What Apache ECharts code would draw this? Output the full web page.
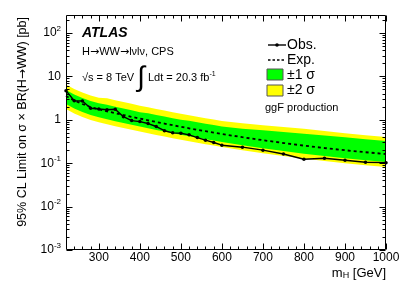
<!DOCTYPE html>
<html><head><meta charset="utf-8">
<script src="https://cdn.jsdelivr.net/npm/echarts@6/dist/echarts.min.js"></script>
<style>html,body{margin:0;padding:0;background:#fff}#c{width:407px;height:295px}</style>
</head><body><div id="c"></div>
<script>
// ---- data ----
const masses   = [220,240,260,280,300,320,340,360,380,400,420,440,460,480,500,520,540,560,580,600,650,700,750,800,850,900,950,1000];
const observed = [4.7,2.75,2.71,1.84,1.77,1.71,1.75,1.18,0.96,0.91,0.82,0.70,0.56,0.50,0.49,0.45,0.39,0.34,0.30,0.26,0.234,0.20,0.163,0.123,0.13,0.117,0.105,0.103];
const expected = [3.54,2.79,2.31,1.97,1.75,1.57,1.42,1.29,1.17,1.07,0.974,0.890,0.818,0.751,0.690,0.637,0.588,0.546,0.507,0.471,0.397,0.339,0.292,0.254,0.224,0.199,0.179,0.163];
const plus1    = [4.86,3.83,3.18,2.71,2.40,2.21,2.00,1.82,1.65,1.50,1.41,1.29,1.19,1.09,1.00,0.949,0.876,0.814,0.755,0.702,0.623,0.576,0.523,0.480,0.435,0.396,0.356,0.324];
const minus1   = [2.31,1.82,1.51,1.29,1.14,1.03,0.928,0.844,0.766,0.697,0.637,0.582,0.535,0.491,0.451,0.417,0.385,0.357,0.332,0.308,0.260,0.222,0.191,0.166,0.146,0.130,0.117,0.107];
const plus2    = [6.50,5.12,4.26,3.63,3.21,3.12,2.82,2.57,2.33,2.12,1.94,1.77,1.63,1.49,1.37,1.27,1.17,1.09,1.01,0.937,0.834,0.749,0.683,0.625,0.551,0.490,0.440,0.401];
const minus2   = [1.78,1.40,1.16,0.990,0.876,0.788,0.712,0.648,0.588,0.535,0.489,0.447,0.411,0.377,0.346,0.320,0.295,0.274,0.255,0.236,0.199,0.170,0.147,0.128,0.112,0.100,0.090,0.082];

const xTickValues = [300,400,500,600,700,800,900,1000];
const xTickLabels = ['300','400','500','600','700','800','900','1000'];
const xMinorTicks = [240,260,280,320,340,360,380,420,440,460,480,520,540,560,580,620,640,660,680,720,740,760,780,820,840,860,880,920,940,960,980];
const yTickValues = [0.001,0.01,0.1,1,10,100];
const yTickBase   = ['10','10','10','1','10','10'];
const yTickExp    = ['-3','-2','-1','','','2'];
const yMinorTicks = [0.002,0.003,0.004,0.005,0.006,0.007,0.008,0.009,
                     0.02,0.03,0.04,0.05,0.06,0.07,0.08,0.09,
                     0.2,0.3,0.4,0.5,0.6,0.7,0.8,0.9,
                     2,3,4,5,6,7,8,9,
                     20,30,40,50,60,70,80,90,200];

const X_MIN = 220, X_MAX = 1000, Y_MIN = 0.001, Y_MAX = 260;
const FONT = '"Liberation Sans", Arial, Helvetica, sans-serif';
const AFONT = '"DejaVu Sans", sans-serif';
const GREEN = '#00ff00', YELLOW = '#ffff00';

function bandItem(upper, lower, color) {
  return function (params, api) {
    if (params.dataIndex !== 0) return null;
    const pts = [];
    for (let i = 0; i < masses.length; i++) pts.push(api.coord([masses[i], upper[i]]));
    for (let i = masses.length - 1; i >= 0; i--) pts.push(api.coord([masses[i], lower[i]]));
    return { type: 'polygon', shape: { points: pts }, style: { fill: color, stroke: null } };
  };
}

function ticksItem(params, api) {
  if (params.dataIndex !== 0) return null;
  const bl = api.coord([X_MIN, Y_MIN]), tr = api.coord([X_MAX, Y_MAX]);
  const L = Math.round(bl[0]) + 0.5, R = Math.round(tr[0]) - 0.5;
  const B = Math.round(bl[1]) - 0.5, T = Math.round(tr[1]) + 0.5;
  const ch = [];
  const seg = (x1, y1, x2, y2) => ({ type: 'line', shape: { x1, y1, x2, y2 }, style: { stroke: '#000', lineWidth: 1 } });
  const px = v => Math.round(api.coord([v, Y_MIN])[0]) + 0.5;
  const py = v => Math.round(api.coord([X_MIN, v])[1]) + 0.5;
  xTickValues.forEach(v => { const x = px(v); ch.push(seg(x, B, x, B - 6)); ch.push(seg(x, T, x, T + 6)); });
  xMinorTicks.forEach(v => { const x = px(v); ch.push(seg(x, B, x, B - 3)); ch.push(seg(x, T, x, T + 3)); });
  yTickValues.forEach(v => { const y = py(v); ch.push(seg(L, y, L + 6, y)); ch.push(seg(R, y, R - 6, y)); });
  yMinorTicks.forEach(v => { const y = py(v); ch.push(seg(L, y, L + 3, y)); ch.push(seg(R, y, R - 3, y)); });
  ch.push({ type: 'rect', shape: { x: L, y: T, width: R - L, height: B - T }, style: { fill: null, stroke: '#000', lineWidth: 1 } });
  return { type: 'group', children: ch };
}

function findIdx(arr, value, isLog) {
  for (let i = 0; i < arr.length; i++) {
    const d = isLog ? Math.abs(Math.log10(value) - Math.log10(arr[i])) : Math.abs(value - arr[i]);
    if (d < 1e-6) return i;
  }
  return -1;
}
function yLabel(value) {
  const idx = findIdx(yTickValues, value, true);
  if (idx < 0) return '';
  return yTickExp[idx] ? '{b|' + yTickBase[idx] + '}{s|' + yTickExp[idx] + '}' : '{b|' + yTickBase[idx] + '}';
}
function xLabel(value) {
  const idx = findIdx(xTickValues, value, false);
  return idx < 0 ? '' : xTickLabels[idx];
}

const chart = echarts.init(document.getElementById('c'), null, { renderer: 'canvas' });
const bandData = masses.map((m, i) => [m, expected[i]]);

chart.setOption({
  animation: false,
  backgroundColor: '#fff',
  grid: { left: 66, right: 21, top: 15, bottom: 45, containLabel: false },
  xAxis: {
    type: 'value', min: X_MIN, max: X_MAX,
    axisLine: { show: false }, axisTick: { show: false }, splitLine: { show: false },
    axisLabel: { customValues: xTickValues, formatter: xLabel, color: '#000', fontFamily: FONT, fontSize: 12, margin: 2 }
  },
  yAxis: {
    type: 'log', logBase: 10, min: Y_MIN, max: Y_MAX,
    axisLine: { show: false }, axisTick: { show: false }, splitLine: { show: false },
    axisLabel: {
      customValues: yTickValues, color: '#000', margin: 5, formatter: yLabel,
      rich: {
        b: { fontFamily: FONT, fontSize: 12, color: '#000', verticalAlign: 'middle' },
        s: { fontFamily: FONT, fontSize: 8, color: '#000', verticalAlign: 'middle', padding: [0, 0, 9, 0] }
      }
    }
  },
  series: [
    { type: 'custom', name: '±2σ', renderItem: bandItem(plus2, minus2, YELLOW), data: bandData, z: 1, silent: true },
    { type: 'custom', name: '±1σ', renderItem: bandItem(plus1, minus1, GREEN), data: bandData, z: 2, silent: true },
    { type: 'line', name: 'Exp.', data: masses.map((m, i) => [m, expected[i]]), showSymbol: false, symbol: 'none',
      lineStyle: { color: '#000', width: 1.8, type: [3, 3] }, z: 3, silent: true },
    { type: 'line', name: 'Obs.', data: masses.map((m, i) => [m, observed[i]]), symbol: 'circle', symbolSize: 3.5,
      itemStyle: { color: '#000' }, lineStyle: { color: '#000', width: 1.4 }, z: 4, silent: true },
    { type: 'custom', name: 'frame', renderItem: ticksItem, data: [[X_MIN, 1]], z: 10, silent: true }
  ],
  graphic: [
    { type: 'text', x: 82, y: 33, style: { text: 'ATLAS', fontFamily: FONT, fontSize: 14, fontWeight: 'bold', fontStyle: 'italic', fill: '#000', verticalAlign: 'middle' } },
    { type: 'text', x: 82, y: 52, style: {
        text: '{t|H}{a|→}{t|WW}{a|→}{t|lνlν, CPS}', verticalAlign: 'middle',
        rich: {
          t: { fontFamily: FONT, fontSize: 11, fill: '#000', verticalAlign: 'middle' },
          a: { fontFamily: AFONT, fontSize: 11, fill: '#000', verticalAlign: 'middle' }
        } } },
    { type: 'text', x: 82, y: 78, style: {
        text: '{t|√s = 8 TeV }{i|∫}{t| Ldt = 20.3 fb}{s|-1}', verticalAlign: 'middle',
        rich: {
          t: { fontFamily: FONT, fontSize: 11, fill: '#000', verticalAlign: 'middle' },
          i: { fontFamily: FONT, fontSize: 28, fill: '#000', verticalAlign: 'middle' },
          s: { fontFamily: FONT, fontSize: 7, fill: '#000', verticalAlign: 'middle', padding: [0, 0, 8, 0] }
        } } },
    // legend
    { type: 'line', shape: { x1: 268, y1: 45, x2: 286, y2: 45 }, style: { stroke: '#000', lineWidth: 1.4 } },
    { type: 'circle', shape: { cx: 277, cy: 45, r: 1.8 }, style: { fill: '#000' } },
    { type: 'line', shape: { x1: 268, y1: 60, x2: 286, y2: 60 }, style: { stroke: '#000', lineWidth: 1.6, lineDash: [2.5, 2] } },
    { type: 'rect', shape: { x: 267, y: 69, width: 16, height: 11 }, style: { fill: GREEN, stroke: '#555', lineWidth: 1 } },
    { type: 'rect', shape: { x: 267, y: 85, width: 16, height: 11 }, style: { fill: YELLOW, stroke: '#555', lineWidth: 1 } },
    { type: 'text', x: 287, y: 45, style: { text: 'Obs.', fontFamily: FONT, fontSize: 14, fill: '#000', verticalAlign: 'middle' } },
    { type: 'text', x: 287, y: 60, style: { text: 'Exp.', fontFamily: FONT, fontSize: 14, fill: '#000', verticalAlign: 'middle' } },
    { type: 'text', x: 287, y: 75, style: { text: '±1 σ', fontFamily: FONT, fontSize: 14, fill: '#000', verticalAlign: 'middle' } },
    { type: 'text', x: 287, y: 90, style: { text: '±2 σ', fontFamily: FONT, fontSize: 14, fill: '#000', verticalAlign: 'middle' } },
    { type: 'text', x: 265, y: 108, style: { text: 'ggF production', fontFamily: FONT, fontSize: 11, fill: '#000', verticalAlign: 'middle' } },
    // axis titles
    { type: 'text', x: 23, y: 17, rotation: Math.PI / 2, style: {
        text: '{t|95% CL Limit on σ × BR(H}{a|→}{t|WW) [pb]}', align: 'right', verticalAlign: 'middle',
        rich: {
          t: { fontFamily: FONT, fontSize: 12.5, fill: '#000', verticalAlign: 'middle' },
          a: { fontFamily: AFONT, fontSize: 12, fill: '#000', verticalAlign: 'middle' }
        } } },
    { type: 'text', x: 386, y: 273, style: {
        text: '{a|m}{b|H}{a| [GeV]}', align: 'right', verticalAlign: 'middle',
        rich: {
          a: { fontFamily: FONT, fontSize: 13, fill: '#000', verticalAlign: 'middle' },
          b: { fontFamily: FONT, fontSize: 9, fill: '#000', verticalAlign: 'middle', padding: [6, 0, 0, 0] }
        } } }
  ]
});
</script>
</body></html>
